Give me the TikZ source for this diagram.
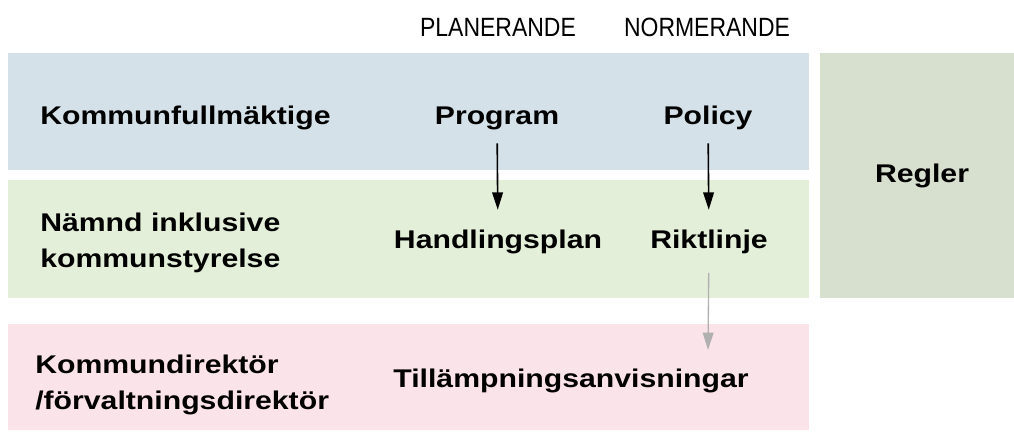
\documentclass[tikz,border=0pt]{standalone}
\usepackage{fontspec}
\setmainfont{Liberation Sans}[FakeStretch=1.18]
\newfontfamily\narrowfont{Liberation Sans}[FakeStretch=0.87]
\usetikzlibrary{arrows.meta}

\definecolor{kfblue}{RGB}{213,225,233}
\definecolor{nmgreen}{RGB}{227,239,217}
\definecolor{kdpink}{RGB}{251,227,234}
\definecolor{reggreen}{RGB}{215,223,207}
\definecolor{arrgray}{RGB}{176,176,176}

\tikzset{
  boldlbl/.style={inner sep=0pt, font=\bfseries\fontsize{19.2}{27}\selectfont, text height=14pt, text depth=4pt},
  headlbl/.style={inner sep=0pt, font=\narrowfont\fontsize{19.8}{22}\selectfont},
  flow/.style={-{Triangle[length=13pt,width=8pt]}, line width=1.2pt},
}

\begin{document}
\begin{tikzpicture}[x=0.75pt,y=0.75pt,yscale=-1,xscale=1]
        \useasboundingbox (0,0) rectangle (1014,432);

        %Shape: Rectangle [kommunfullmaktige]
        \fill [kfblue] (8,53) rectangle (809,170);
        %Shape: Rectangle [namnd]
        \fill [nmgreen] (8,180) rectangle (809,298);
        %Shape: Rectangle [kommundirektor]
        \fill [kdpink] (8,324) rectangle (809,430);
        %Shape: Rectangle [regler]
        \fill [reggreen] (820,53) rectangle (1014,298);

        % Text Node
        \node [headlbl] (plan) at (498,27) {PLANERANDE};
        % Text Node
        \node [headlbl] (norm) at (707,27) {NORMERANDE};

        % Text Node
        \node [boldlbl, anchor=west] (kf) at (40,118) {Kommunfullmäktige};
        % Text Node
        \node [boldlbl] (prog) at (497,118) {Program};
        % Text Node
        \node [boldlbl] (pol) at (708,118) {Policy};

        % Text Node
        \node [boldlbl, anchor=west, align=left, text height=, text depth=] (nmnd) at (40,243) {Nämnd inklusive\\kommunstyrelse};
        % Text Node
        \node [boldlbl] (handl) at (498,242) {Handlingsplan};
        % Text Node
        \node [boldlbl] (rikt) at (709,242) {Riktlinje};

        % Text Node
        \node [boldlbl, anchor=west, align=left, text height=, text depth=] (kd) at (35,385) {Kommundirektör\\/förvaltningsdirektör};
        % Text Node
        \node [boldlbl] (till) at (571,381) {Tillämpningsanvisningar};

        % Text Node
        \node [boldlbl] (regl) at (922,176) {Regler};

        \coordinate (tillpil) at (708,350);

        %Straight Lines
        \draw [flow, shorten <=9.75pt, shorten >=15pt] (prog) -- (handl);
        %Straight Lines
        \draw [flow, shorten <=9.75pt, shorten >=15pt] (pol) -- (rikt);
        %Straight Lines
        \draw [flow, arrgray, line width=1pt, shorten <=14pt] (rikt) -- (tillpil);

\end{tikzpicture}
\end{document}
